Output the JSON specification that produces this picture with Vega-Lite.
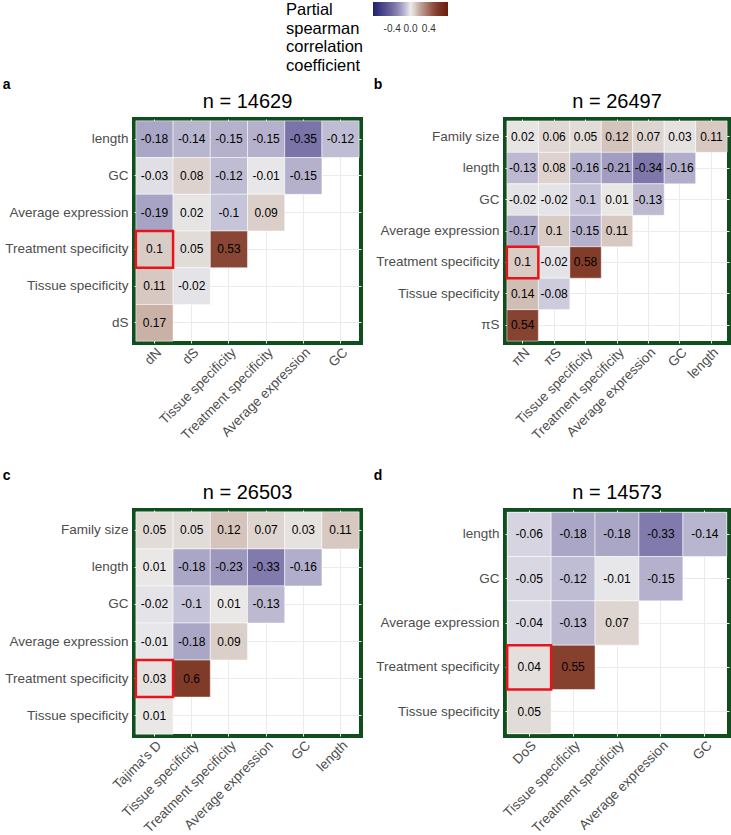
{
  "$schema": "https://vega.github.io/schema/vega-lite/v6.json",
  "background": "white",
  "padding": {"left": 2, "top": 2, "right": 0, "bottom": 0},
  "datasets": {
    "a": [
      {"row": "length", "col": "dN", "r": -0.18},
      {"row": "length", "col": "dS", "r": -0.14},
      {"row": "length", "col": "Tissue specificity", "r": -0.15},
      {"row": "length", "col": "Treatment specificity", "r": -0.15},
      {"row": "length", "col": "Average expression", "r": -0.35},
      {"row": "length", "col": "GC", "r": -0.12},
      {"row": "GC", "col": "dN", "r": -0.03},
      {"row": "GC", "col": "dS", "r": 0.08},
      {"row": "GC", "col": "Tissue specificity", "r": -0.12},
      {"row": "GC", "col": "Treatment specificity", "r": -0.01},
      {"row": "GC", "col": "Average expression", "r": -0.15},
      {"row": "Average expression", "col": "dN", "r": -0.19},
      {"row": "Average expression", "col": "dS", "r": 0.02},
      {"row": "Average expression", "col": "Tissue specificity", "r": -0.1},
      {"row": "Average expression", "col": "Treatment specificity", "r": 0.09},
      {"row": "Treatment specificity", "col": "dN", "r": 0.1},
      {"row": "Treatment specificity", "col": "dS", "r": 0.05},
      {"row": "Treatment specificity", "col": "Tissue specificity", "r": 0.53},
      {"row": "Tissue specificity", "col": "dN", "r": 0.11},
      {"row": "Tissue specificity", "col": "dS", "r": -0.02},
      {"row": "dS", "col": "dN", "r": 0.17}
    ],
    "b": [
      {"row": "Family size", "col": "πN", "r": 0.02},
      {"row": "Family size", "col": "πS", "r": 0.06},
      {"row": "Family size", "col": "Tissue specificity", "r": 0.05},
      {"row": "Family size", "col": "Treatment specificity", "r": 0.12},
      {"row": "Family size", "col": "Average expression", "r": 0.07},
      {"row": "Family size", "col": "GC", "r": 0.03},
      {"row": "Family size", "col": "length", "r": 0.11},
      {"row": "length", "col": "πN", "r": -0.13},
      {"row": "length", "col": "πS", "r": 0.08},
      {"row": "length", "col": "Tissue specificity", "r": -0.16},
      {"row": "length", "col": "Treatment specificity", "r": -0.21},
      {"row": "length", "col": "Average expression", "r": -0.34},
      {"row": "length", "col": "GC", "r": -0.16},
      {"row": "GC", "col": "πN", "r": -0.02},
      {"row": "GC", "col": "πS", "r": -0.02},
      {"row": "GC", "col": "Tissue specificity", "r": -0.1},
      {"row": "GC", "col": "Treatment specificity", "r": 0.01},
      {"row": "GC", "col": "Average expression", "r": -0.13},
      {"row": "Average expression", "col": "πN", "r": -0.17},
      {"row": "Average expression", "col": "πS", "r": 0.1},
      {"row": "Average expression", "col": "Tissue specificity", "r": -0.15},
      {"row": "Average expression", "col": "Treatment specificity", "r": 0.11},
      {"row": "Treatment specificity", "col": "πN", "r": 0.1},
      {"row": "Treatment specificity", "col": "πS", "r": -0.02},
      {"row": "Treatment specificity", "col": "Tissue specificity", "r": 0.58},
      {"row": "Tissue specificity", "col": "πN", "r": 0.14},
      {"row": "Tissue specificity", "col": "πS", "r": -0.08},
      {"row": "πS", "col": "πN", "r": 0.54}
    ],
    "c": [
      {"row": "Family size", "col": "Tajima's D", "r": 0.05},
      {"row": "Family size", "col": "Tissue specificity", "r": 0.05},
      {"row": "Family size", "col": "Treatment specificity", "r": 0.12},
      {"row": "Family size", "col": "Average expression", "r": 0.07},
      {"row": "Family size", "col": "GC", "r": 0.03},
      {"row": "Family size", "col": "length", "r": 0.11},
      {"row": "length", "col": "Tajima's D", "r": 0.01},
      {"row": "length", "col": "Tissue specificity", "r": -0.18},
      {"row": "length", "col": "Treatment specificity", "r": -0.23},
      {"row": "length", "col": "Average expression", "r": -0.33},
      {"row": "length", "col": "GC", "r": -0.16},
      {"row": "GC", "col": "Tajima's D", "r": -0.02},
      {"row": "GC", "col": "Tissue specificity", "r": -0.1},
      {"row": "GC", "col": "Treatment specificity", "r": 0.01},
      {"row": "GC", "col": "Average expression", "r": -0.13},
      {"row": "Average expression", "col": "Tajima's D", "r": -0.01},
      {"row": "Average expression", "col": "Tissue specificity", "r": -0.18},
      {"row": "Average expression", "col": "Treatment specificity", "r": 0.09},
      {"row": "Treatment specificity", "col": "Tajima's D", "r": 0.03},
      {"row": "Treatment specificity", "col": "Tissue specificity", "r": 0.6},
      {"row": "Tissue specificity", "col": "Tajima's D", "r": 0.01}
    ],
    "d": [
      {"row": "length", "col": "DoS", "r": -0.06},
      {"row": "length", "col": "Tissue specificity", "r": -0.18},
      {"row": "length", "col": "Treatment specificity", "r": -0.18},
      {"row": "length", "col": "Average expression", "r": -0.33},
      {"row": "length", "col": "GC", "r": -0.14},
      {"row": "GC", "col": "DoS", "r": -0.05},
      {"row": "GC", "col": "Tissue specificity", "r": -0.12},
      {"row": "GC", "col": "Treatment specificity", "r": -0.01},
      {"row": "GC", "col": "Average expression", "r": -0.15},
      {"row": "Average expression", "col": "DoS", "r": -0.04},
      {"row": "Average expression", "col": "Tissue specificity", "r": -0.13},
      {"row": "Average expression", "col": "Treatment specificity", "r": 0.07},
      {"row": "Treatment specificity", "col": "DoS", "r": 0.04},
      {"row": "Treatment specificity", "col": "Tissue specificity", "r": 0.55},
      {"row": "Tissue specificity", "col": "DoS", "r": 0.05}
    ]
  },
  "vconcat": [
    {
      "hconcat": [
        {
          "title": {"text": "a", "anchor": "start", "frame": "bounds", "fontSize": 14, "fontWeight": "bold", "offset": -2},
          "vconcat": [
            {
              "width": 227, "height": 224,
              "data": {"name": "a"},
              "title": {"text": "n = 14629", "anchor": "middle", "frame": "group", "fontSize": 20, "fontWeight": "normal", "offset": 7},
              "encoding": {
                "x": {"field": "col", "type": "nominal", "title": null, "scale": {"domain": ["dN", "dS", "Tissue specificity", "Treatment specificity", "Average expression", "GC"], "paddingInner": 0, "paddingOuter": 0.05}},
                "y": {"field": "row", "type": "nominal", "title": null, "scale": {"domain": ["length", "GC", "Average expression", "Treatment specificity", "Tissue specificity", "dS"], "paddingInner": 0, "paddingOuter": 0.05}}
              },
              "layer": [
                {"mark": {"type": "rect", "stroke": "white", "strokeWidth": 0.5},
                 "encoding": {"color": {"field": "r", "type": "quantitative", "scale": {"domain": [-0.82, -0.35, -0.18, -0.1, 0, 0.1, 0.17, 0.55, 0.82], "range": ["#20206e", "#7b74a8", "#aaa6c6", "#c6c4d8", "#ebebeb", "#d9ccc5", "#c9b1a6", "#85402e", "#6a1e0c"], "interpolate": "rgb"},
                   "legend": {"orient": "none", "legendX": 152, "legendY": -117, "direction": "horizontal", "gradientLength": 75, "gradientThickness": 14, "titleOrient": "left", "titleAnchor": "start", "titleBaseline": "top", "title": ["Partial", "spearman", "correlation", "coefficient"], "titleFontSize": 16.5, "titleLineHeight": 18.5, "titleFontWeight": "normal", "titleColor": "black", "titlePadding": 9, "values": [-0.4, 0, 0.4], "format": ".1f", "labelFontSize": 10, "labelOffset": 8, "labelColor": "#333333", "labelOverlap": false}}}},
                {"mark": {"type": "text", "fontSize": 12, "color": "black"}, "encoding": {"text": {"field": "r", "type": "quantitative", "format": ".2~f"}}},
                {"transform": [{"filter": "datum.row === 'Treatment specificity' && datum.col === 'dN'"}],
                 "mark": {"type": "rect", "filled": false, "stroke": "#e8141c", "strokeWidth": 2.5}}
              ]
            }
          ]
        },
        {
          "title": {"text": "b", "anchor": "start", "frame": "bounds", "fontSize": 14, "fontWeight": "bold", "offset": -2},
          "vconcat": [
            {
              "width": 224, "height": 224,
              "data": {"name": "b"},
              "title": {"text": "n = 26497", "anchor": "middle", "frame": "group", "fontSize": 20, "fontWeight": "normal", "offset": 7},
              "encoding": {
                "x": {"field": "col", "type": "nominal", "title": null, "scale": {"domain": ["πN", "πS", "Tissue specificity", "Treatment specificity", "Average expression", "GC", "length"], "paddingInner": 0, "paddingOuter": 0.06}},
                "y": {"field": "row", "type": "nominal", "title": null, "scale": {"domain": ["Family size", "length", "GC", "Average expression", "Treatment specificity", "Tissue specificity", "πS"], "paddingInner": 0, "paddingOuter": 0.06}}
              },
              "layer": [
                {"mark": {"type": "rect", "stroke": "white", "strokeWidth": 0.5},
                 "encoding": {"color": {"field": "r", "type": "quantitative", "scale": {"domain": [-0.82, -0.35, -0.18, -0.1, 0, 0.1, 0.17, 0.55, 0.82], "range": ["#20206e", "#7b74a8", "#aaa6c6", "#c6c4d8", "#ebebeb", "#d9ccc5", "#c9b1a6", "#85402e", "#6a1e0c"], "interpolate": "rgb"},
                   "legend": {"orient": "none", "legendX": 152, "legendY": -117, "direction": "horizontal", "gradientLength": 75, "gradientThickness": 14, "titleOrient": "left", "titleAnchor": "start", "titleBaseline": "top", "title": ["Partial", "spearman", "correlation", "coefficient"], "titleFontSize": 16.5, "titleLineHeight": 18.5, "titleFontWeight": "normal", "titleColor": "black", "titlePadding": 9, "values": [-0.4, 0, 0.4], "format": ".1f", "labelFontSize": 10, "labelOffset": 8, "labelColor": "#333333", "labelOverlap": false}}}},
                {"mark": {"type": "text", "fontSize": 12, "color": "black"}, "encoding": {"text": {"field": "r", "type": "quantitative", "format": ".2~f"}}},
                {"transform": [{"filter": "datum.row === 'Treatment specificity' && datum.col === 'πN'"}],
                 "mark": {"type": "rect", "filled": false, "stroke": "#e8141c", "strokeWidth": 2.5}}
              ]
            }
          ]
        }
      ],
      "spacing": 10
    },
    {
      "hconcat": [
        {
          "title": {"text": "c", "anchor": "start", "frame": "bounds", "fontSize": 14, "fontWeight": "bold", "offset": -2},
          "vconcat": [
            {
              "width": 227, "height": 226,
              "data": {"name": "c"},
              "title": {"text": "n = 26503", "anchor": "middle", "frame": "group", "fontSize": 20, "fontWeight": "normal", "offset": 7},
              "encoding": {
                "x": {"field": "col", "type": "nominal", "title": null, "scale": {"domain": ["Tajima's D", "Tissue specificity", "Treatment specificity", "Average expression", "GC", "length"], "paddingInner": 0, "paddingOuter": 0.05}},
                "y": {"field": "row", "type": "nominal", "title": null, "scale": {"domain": ["Family size", "length", "GC", "Average expression", "Treatment specificity", "Tissue specificity"], "paddingInner": 0, "paddingOuter": 0.05}}
              },
              "layer": [
                {"mark": {"type": "rect", "stroke": "white", "strokeWidth": 0.5},
                 "encoding": {"color": {"field": "r", "type": "quantitative", "scale": {"domain": [-0.82, -0.35, -0.18, -0.1, 0, 0.1, 0.17, 0.55, 0.82], "range": ["#20206e", "#7b74a8", "#aaa6c6", "#c6c4d8", "#ebebeb", "#d9ccc5", "#c9b1a6", "#85402e", "#6a1e0c"], "interpolate": "rgb"},
                   "legend": {"orient": "none", "legendX": 152, "legendY": -117, "direction": "horizontal", "gradientLength": 75, "gradientThickness": 14, "titleOrient": "left", "titleAnchor": "start", "titleBaseline": "top", "title": ["Partial", "spearman", "correlation", "coefficient"], "titleFontSize": 16.5, "titleLineHeight": 18.5, "titleFontWeight": "normal", "titleColor": "black", "titlePadding": 9, "values": [-0.4, 0, 0.4], "format": ".1f", "labelFontSize": 10, "labelOffset": 8, "labelColor": "#333333", "labelOverlap": false}}}},
                {"mark": {"type": "text", "fontSize": 12, "color": "black"}, "encoding": {"text": {"field": "r", "type": "quantitative", "format": ".2~f"}}},
                {"transform": [{"filter": "datum.row === 'Treatment specificity' && datum.col === \"Tajima's D\""}],
                 "mark": {"type": "rect", "filled": false, "stroke": "#e8141c", "strokeWidth": 2.5}}
              ]
            }
          ]
        },
        {
          "title": {"text": "d", "anchor": "start", "frame": "bounds", "fontSize": 14, "fontWeight": "bold", "offset": -2},
          "vconcat": [
            {
              "width": 224, "height": 226,
              "data": {"name": "d"},
              "title": {"text": "n = 14573", "anchor": "middle", "frame": "group", "fontSize": 20, "fontWeight": "normal", "offset": 7},
              "encoding": {
                "x": {"field": "col", "type": "nominal", "title": null, "scale": {"domain": ["DoS", "Tissue specificity", "Treatment specificity", "Average expression", "GC"], "paddingInner": 0, "paddingOuter": 0.05}},
                "y": {"field": "row", "type": "nominal", "title": null, "scale": {"domain": ["length", "GC", "Average expression", "Treatment specificity", "Tissue specificity"], "paddingInner": 0, "paddingOuter": 0.05}}
              },
              "layer": [
                {"mark": {"type": "rect", "stroke": "white", "strokeWidth": 0.5},
                 "encoding": {"color": {"field": "r", "type": "quantitative", "scale": {"domain": [-0.82, -0.35, -0.18, -0.1, 0, 0.1, 0.17, 0.55, 0.82], "range": ["#20206e", "#7b74a8", "#aaa6c6", "#c6c4d8", "#ebebeb", "#d9ccc5", "#c9b1a6", "#85402e", "#6a1e0c"], "interpolate": "rgb"},
                   "legend": {"orient": "none", "legendX": 152, "legendY": -117, "direction": "horizontal", "gradientLength": 75, "gradientThickness": 14, "titleOrient": "left", "titleAnchor": "start", "titleBaseline": "top", "title": ["Partial", "spearman", "correlation", "coefficient"], "titleFontSize": 16.5, "titleLineHeight": 18.5, "titleFontWeight": "normal", "titleColor": "black", "titlePadding": 9, "values": [-0.4, 0, 0.4], "format": ".1f", "labelFontSize": 10, "labelOffset": 8, "labelColor": "#333333", "labelOverlap": false}}}},
                {"mark": {"type": "text", "fontSize": 12, "color": "black"}, "encoding": {"text": {"field": "r", "type": "quantitative", "format": ".2~f"}}},
                {"transform": [{"filter": "datum.row === 'Treatment specificity' && datum.col === 'DoS'"}],
                 "mark": {"type": "rect", "filled": false, "stroke": "#e8141c", "strokeWidth": 2.5}}
              ]
            }
          ]
        }
      ],
      "spacing": 10
    }
  ],
  "spacing": 25,
  "config": {
    "font": "Liberation Sans",
    "locale": {"number": {"decimal": ".", "thousands": ",", "grouping": [3], "currency": ["$", ""], "minus": "-"}},
    "view": {"stroke": "#0f4f1d", "strokeWidth": 4},
    "axis": {"labelFontSize": 13.5, "labelColor": "#4d4d4d", "labelFont": "Liberation Sans", "ticks": false, "domain": false, "grid": true, "gridColor": "#ebebeb", "gridWidth": 1, "bandPosition": 0.5, "labelLimit": 300, "zindex": 0},
    "axisX": {"labelAngle": -45, "labelAlign": "right", "labelBaseline": "top", "labelPadding": 2},
    "axisY": {"labelPadding": 6},
    "title": {"color": "black", "font": "Liberation Sans"}
  }
}
